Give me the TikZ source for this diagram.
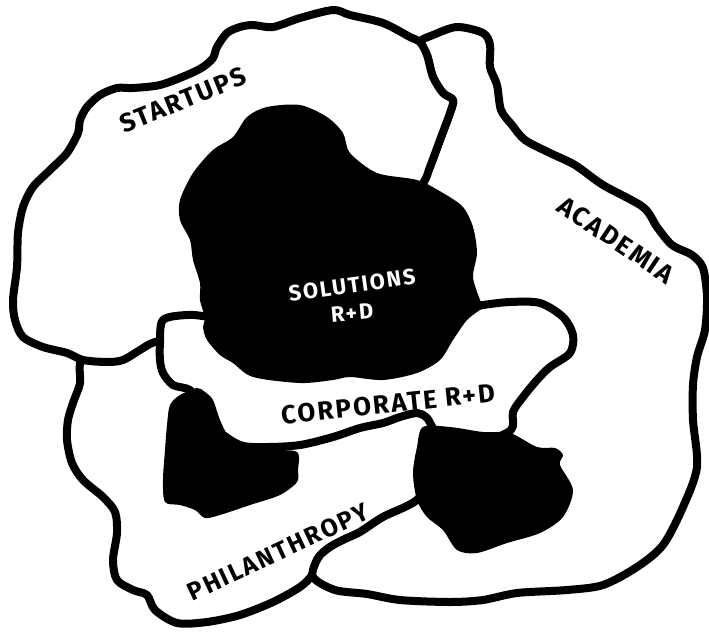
\documentclass[tikz,border=0pt]{standalone}
\usepackage{fontspec}
\usepackage{tikz}
\usepackage{xcolor}
\newfontfamily\handfont[LetterSpace=8]{Fira Sans}

\begin{document}
\begin{tikzpicture}[x=0.5pt,y=-0.5pt,
  region/.style={fill=white,draw=black,line width=4pt,line join=round},
  blot/.style={fill=black},
  lbl/.style={font=\handfont\fontsize{13}{13}\selectfont\bfseries,inner sep=0pt}]
\useasboundingbox (0,0) rectangle (709,634);
\draw[region] plot[smooth cycle,tension=0.5] coordinates {(80,363) (80,383) (73,403) (68,420) (67,440) (72,463) (83,480) (103,497) (115,512) (117,533) (113,560) (117,580) (133,590) (147,595) (155,610) (177,623) (207,622) (240,615) (273,602) (300,587) (312,575) (318,558) (330,547) (345,539) (360,532) (383,517) (417,500) (435,470) (445,432) (420,395) (300,400) (200,370) (150,335) (120,335) (90,340)};
\draw[region] plot[smooth cycle,tension=0.5] coordinates {(420,42) (433,35) (457,27) (483,33) (490,45) (490,67) (497,85) (501,110) (512,125) (525,140) (550,153) (575,165) (603,185) (643,207) (657,227) (672,245) (692,255) (703,268) (707,297) (705,330) (697,357) (693,385) (693,420) (697,467) (683,507) (663,545) (637,567) (603,585) (567,590) (517,593) (483,600) (450,602) (400,600) (367,594) (335,590) (313,577) (318,558) (330,547) (345,539) (360,532) (383,517) (417,500) (440,470) (452,420) (470,360) (465,250) (445,215) (423,183) (430,167) (440,140) (450,113) (453,100) (443,93) (433,77) (427,55)};
\draw[region] plot[smooth cycle,tension=0.5] coordinates {(13,300) (15,320) (23,337) (43,347) (67,353) (83,360) (107,362) (123,360) (140,350) (155,342) (190,335) (240,320) (320,260) (400,205) (423,183) (430,167) (440,140) (450,113) (453,100) (443,93) (433,77) (427,55) (420,42) (410,37) (383,23) (350,15) (333,10) (300,18) (273,27) (253,25) (240,27) (227,33) (217,47) (213,58) (203,67) (187,75) (160,85) (133,88) (117,88) (100,95) (87,107) (80,120) (78,133) (67,153) (50,170) (33,187) (23,207) (18,233) (17,267)};
\draw[region] plot[smooth cycle,tension=0.5] coordinates {(163,320) (187,315) (210,317) (300,330) (400,320) (470,308) (483,305) (510,302) (540,303) (563,317) (573,335) (570,353) (550,367) (537,380) (523,397) (513,412) (511,430) (480,442) (440,435) (427,418) (417,413) (400,417) (383,423) (360,428) (333,437) (300,445) (267,447) (240,445) (215,428) (200,405) (190,390) (173,385) (163,373) (160,360) (160,343)};
\fill[blot] plot[smooth cycle,tension=0.5] coordinates {(247,117) (267,107) (300,105) (327,117) (343,133) (350,153) (377,173) (417,180) (443,193) (463,207) (473,227) (477,253) (473,277) (480,300) (483,307) (467,320) (453,340) (440,360) (417,373) (383,380) (350,377) (333,380) (300,383) (253,377) (233,363) (220,355) (207,340) (203,327) (205,318) (200,300) (200,283) (193,260) (190,240) (180,220) (180,200) (193,173) (213,150) (233,137)};
\fill[blot] plot[smooth cycle,tension=0.5] coordinates {(423,427) (450,427) (483,432) (510,433) (537,447) (555,448) (563,455) (560,465) (573,490) (563,517) (540,533) (507,543) (477,553) (457,550) (443,530) (427,517) (417,500) (413,473) (417,447)};
\fill[blot] plot[smooth cycle,tension=0.5] coordinates {(170,405) (180,395) (197,388) (205,392) (213,400) (220,420) (230,440) (240,447) (270,450) (297,452) (298,470) (297,482) (280,495) (250,505) (220,515) (205,518) (195,510) (180,505) (165,502) (163,480) (165,450) (167,425)};
\node[lbl,rotate=22] (startups) at (183,100) {STARTUPS};
\node[lbl,rotate=-34] (academia) at (616,240) {ACADEMIA};
\node[lbl,rotate=8,text=white,font=\handfont\fontsize{11}{11}\selectfont\bfseries] (solutions) at (352,285) {SOLUTIONS};
\node[lbl,rotate=5,text=white,font=\handfont\fontsize{11}{11}\selectfont\bfseries] (solrd) at (352,313) {R+D};
\node[lbl,rotate=6] (corporate) at (388,404) {CORPORATE R+D};
\node[lbl,rotate=25,font=\handfont\fontsize{12.5}{12.5}\selectfont\bfseries] (philanthropy) at (278,552) {PHILANTHROPY};
\end{tikzpicture}
\end{document}
